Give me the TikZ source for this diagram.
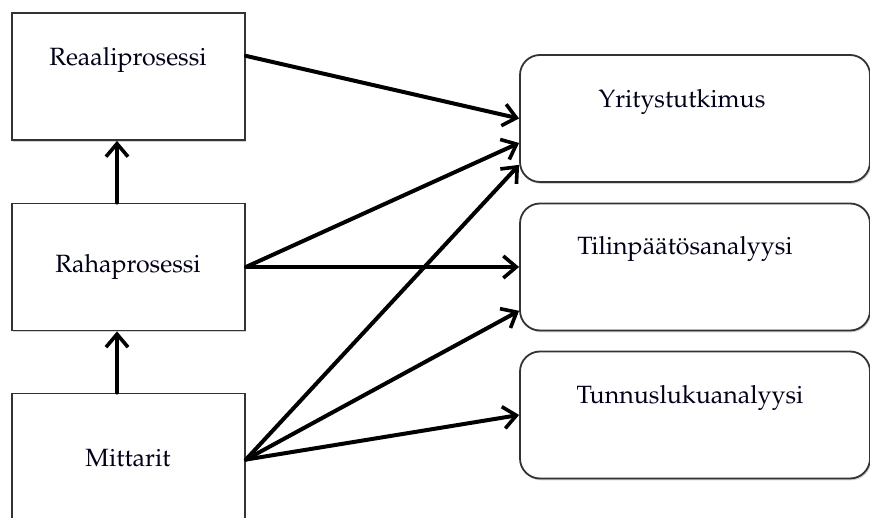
\documentclass[tikz,border=0pt]{standalone}
\usepackage[T1]{fontenc}
\renewcommand{\rmdefault}{ppl}
\usetikzlibrary{arrows.meta,shadows,calc}
\begin{document}
\begin{tikzpicture}[x=1pt,y=-1pt,
  lbox/.style={draw=black!80,line width=1.8pt,fill=white,rectangle,
    minimum width=233pt,minimum height=127pt,inner sep=0pt,
    drop shadow={shadow xshift=1.2pt,shadow yshift=-1.8pt,opacity=0.35}},
  rbox/.style={lbox,rounded corners=20pt,minimum width=350pt},
  lbl/.style={inner sep=0pt,text=black!90!blue,font=\fontsize{25}{30}\selectfont},
  arr/.style={line width=4pt,line cap=round,-{Straight Barb[length=13pt,width=22pt,line width=3.6pt]}}]
\useasboundingbox (0,0) rectangle (870,518);
\clip (0,0) rectangle (870,518);
% left boxes
\node[lbox] (reaali) at (128.5,76.5) {};
\node[lbox] (raha) at (128.5,267) {};
\node[lbox] (mitt) at (128.5,457) {};
% right boxes
\node[rbox] (yrit) at (695,118.5) {};
\node[rbox] (tilin) at (695,267) {};
\node[rbox] (tunn) at (695,415) {};
% texts
\node[lbl] (treaali) at (128,60) {Reaaliprosessi};
\node[lbl] (traha) at (128,267) {Rahaprosessi};
\node[lbl] (tmitt) at (128,458) {Mittarit};
\node[lbl] (tyrit) at (682,102) {Yritystutkimus};
\node[lbl] (ttilin) at (685,249) {Tilinpäätösanalyysi};
\node[lbl] (ttunn) at (690,398) {Tunnuslukuanalyysi};
% vertical arrows
\draw[arr] ([xshift=-11.5pt]mitt.north) -- ([xshift=-11.5pt]raha.south);
\draw[arr] ([xshift=-11.5pt]raha.north) -- ([xshift=-11.5pt]reaali.south);
% arrows to right
\draw[arr] ($(reaali.north east)!0.34!(reaali.south east)$) -- (yrit.west);
\draw[arr] (raha.east) -- ($(yrit.north west)!0.69!(yrit.south west)$);
\draw[arr] (raha.east) -- (tilin.west);
\draw[arr] ($(mitt.north east)!0.52!(mitt.south east)$) -- ($(yrit.north west)!0.86!(yrit.south west)$);
\draw[arr] ($(mitt.north east)!0.52!(mitt.south east)$) -- ($(tilin.north west)!0.84!(tilin.south west)$);
\draw[arr] ($(mitt.north east)!0.52!(mitt.south east)$) -- (tunn.west);
\end{tikzpicture}
\end{document}
